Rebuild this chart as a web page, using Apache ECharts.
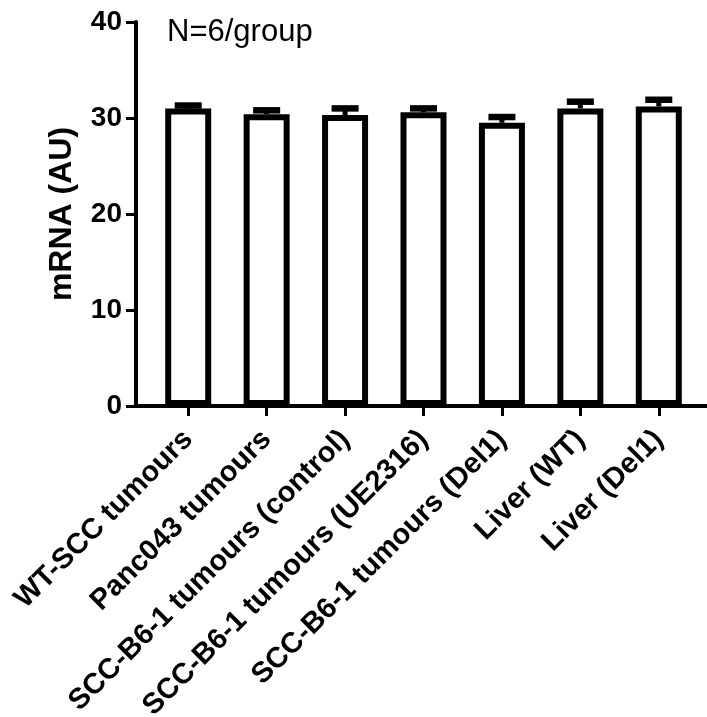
<!DOCTYPE html>
<html>
<head>
<meta charset="utf-8">
<script src="https://cdn.jsdelivr.net/npm/echarts@6/dist/echarts.min.js"></script>
<style>
  html, body { margin: 0; padding: 0; background: #fff; }
  #chart { width: 707px; height: 717px; }
</style>
</head>
<body>
<div id="chart"></div>
<script>
// data
const groups = [
  'WT-SCC tumours',
  'Panc043 tumours',
  'SCC-B6-1 tumours (control)',
  'SCC-B6-1 tumours (UE2316)',
  'SCC-B6-1 tumours (Del1)',
  'Liver (WT)',
  'Liver (Del1)'
];
const means = [31.0, 30.4, 30.3, 30.6, 29.5, 31.0, 31.2];
const sems = [0.3, 0.4, 0.7, 0.4, 0.6, 0.7, 0.7];
const yTicks = [0, 10, 20, 30, 40];

const font = 'Liberation Sans, Arial, sans-serif';
const chart = echarts.init(document.getElementById('chart'));

// error bar: stem + cap, only upward (like the prism plot)
const errorBar = function (params, api) {
  const i = api.value(0);
  const base = api.coord([i, api.value(1)]);
  const tip = api.coord([i, api.value(1) + api.value(2)]);
  const half = 13.5;
  return {
    type: 'group',
    children: [
      {
        type: 'line',
        shape: { x1: base[0], y1: base[1], x2: tip[0], y2: tip[1] },
        style: { stroke: '#000', lineWidth: 5 }
      },
      {
        type: 'line',
        shape: { x1: tip[0] - half, y1: tip[1], x2: tip[0] + half, y2: tip[1] },
        style: { stroke: '#000', lineWidth: 6.5 }
      }
    ]
  };
};

const option = {
  backgroundColor: '#fff',
  animation: false,
  title: {
    text: 'N=6/group',
    left: 162,
    top: 12,
    textStyle: { fontFamily: font, fontSize: 31, fontWeight: 'normal', color: '#000' }
  },
  grid: [
    // outer grid: y axis + full x axis line
    { left: 136, right: 0, top: 22, bottom: 311, outerBoundsMode: 'none' },
    // inner grid: category positions of the bars
    { left: 149, right: 9, top: 22, bottom: 311, outerBoundsMode: 'none' }
  ],
  xAxis: [
    {
      gridIndex: 0,
      type: 'value',
      min: 0,
      max: 1,
      axisLine: { show: true, lineStyle: { color: '#000', width: 4 } },
      axisTick: { show: false },
      axisLabel: { show: false },
      splitLine: { show: false }
    },
    {
      gridIndex: 1,
      type: 'category',
      data: groups,
      axisLine: { show: false },
      axisTick: { show: true, alignWithLabel: true, length: 10, lineStyle: { color: '#000', width: 3 } },
      axisLabel: {
        rotate: 45,
        margin: 29,
        interval: 0,
        fontFamily: font,
        fontSize: 29,
        fontWeight: 'bold',
        color: '#000'
      },
      splitLine: { show: false }
    }
  ],
  yAxis: [
    {
      gridIndex: 0,
      type: 'value',
      min: yTicks[0],
      max: yTicks[yTicks.length - 1],
      interval: 10,
      name: 'mRNA (AU)',
      nameLocation: 'middle',
      nameGap: 58,
      nameTextStyle: { fontFamily: font, fontSize: 32, fontWeight: 'bold', color: '#000' },
      axisLine: { show: true, lineStyle: { color: '#000', width: 4 } },
      axisTick: { show: true, length: 10, lineStyle: { color: '#000', width: 3 } },
      axisLabel: { margin: 14, fontFamily: font, fontSize: 28, fontWeight: 'bold', color: '#000' },
      splitLine: { show: false }
    },
    {
      gridIndex: 1,
      type: 'value',
      min: yTicks[0],
      max: yTicks[yTicks.length - 1],
      show: false
    }
  ],
  series: [
    {
      type: 'bar',
      xAxisIndex: 1,
      yAxisIndex: 1,
      data: means,
      barWidth: 46,
      itemStyle: { color: '#fff', borderColor: '#000', borderWidth: 6 },
      z: 3
    },
    {
      type: 'custom',
      xAxisIndex: 1,
      yAxisIndex: 1,
      renderItem: errorBar,
      data: means.map((m, i) => [i, m, sems[i]]),
      z: 4
    }
  ]
};

chart.setOption(option);
</script>
</body>
</html>
